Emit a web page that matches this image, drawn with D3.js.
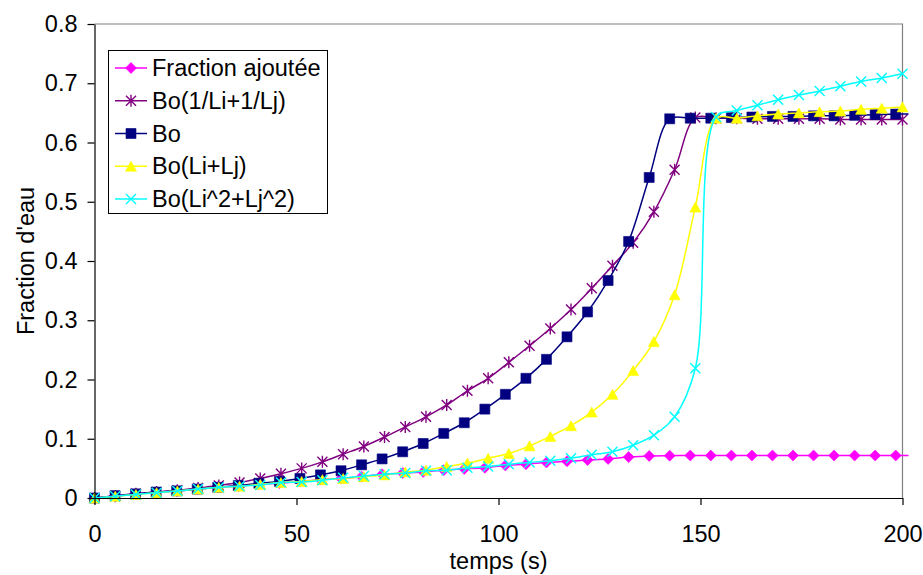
<!DOCTYPE html>
<html><head><meta charset="utf-8">
<script src="https://cdn.jsdelivr.net/npm/d3@7"></script>
<style>
body{margin:0;background:#fff}
text{font-family:"Liberation Sans",Arial,sans-serif}
</style></head>
<body><svg id="c" width="923" height="575"></svg>
<script>
// time grids (s)
const timesA = [0,5.09,10.17,15.26,20.34,25.43,30.51,35.60,40.68,45.77,50.85,55.94,61.02,66.11,71.19,76.28,81.36,86.45,91.53,96.62,101.70,106.79,111.87,116.96,122.04,127.13,132.21,137.30,142.38,147.47,152.55,157.64,162.72,167.81,172.89,177.98,183.06,188.15,193.23,198.32,203.40];
const timesB = [0,5.13,10.26,15.38,20.51,25.64,30.77,35.90,41.03,46.15,51.28,56.41,61.54,66.67,71.79,76.92,82.05,87.18,92.31,97.44,102.56,107.69,112.82,117.95,123.08,128.21,133.33,138.46,143.59,148.72,153.85,158.97,164.10,169.23,174.36,179.49,184.62,189.74,194.87,200];

// series values
const fractionAjoutee = [0,0.004,0.007,0.010,0.012,0.015,0.018,0.020,0.023,0.025,0.028,0.031,0.033,0.036,0.040,0.042,0.044,0.047,0.049,0.051,0.055,0.057,0.060,0.062,0.064,0.066,0.069,0.071,0.0715,0.0717,0.0717,0.0717,0.0717,0.0717,0.0717,0.0717,0.0717,0.0717,0.0717,0.0717,0.0717];
const boInv = [0,0.003,0.007,0.010,0.013,0.017,0.021,0.026,0.033,0.041,0.050,0.061,0.074,0.087,0.103,0.120,0.137,0.157,0.181,0.202,0.229,0.257,0.286,0.318,0.354,0.392,0.431,0.483,0.554,0.642,0.641,0.641,0.640,0.640,0.640,0.640,0.639,0.639,0.639,0.639];
const bo = [0,0.004,0.007,0.010,0.012,0.015,0.018,0.021,0.025,0.028,0.033,0.039,0.046,0.056,0.066,0.078,0.092,0.109,0.127,0.150,0.175,0.202,0.234,0.272,0.314,0.367,0.433,0.541,0.640,0.641,0.641,0.642,0.643,0.644,0.644,0.645,0.645,0.646,0.647,0.648,0.648];
const boSum = [0,0.003,0.006,0.009,0.012,0.015,0.018,0.020,0.023,0.026,0.028,0.031,0.033,0.036,0.039,0.044,0.047,0.053,0.059,0.067,0.075,0.088,0.104,0.122,0.145,0.175,0.215,0.264,0.343,0.491,0.641,0.641,0.645,0.648,0.650,0.652,0.653,0.656,0.658,0.660];
const boSq = [0,0.003,0.006,0.009,0.012,0.015,0.018,0.020,0.022,0.026,0.027,0.030,0.034,0.037,0.040,0.042,0.046,0.047,0.051,0.053,0.057,0.060,0.063,0.067,0.073,0.078,0.089,0.106,0.137,0.219,0.643,0.654,0.663,0.672,0.680,0.687,0.695,0.703,0.709,0.716];

const seriesNames = ["Fraction ajoutée","Bo(1/Li+1/Lj)","Bo","Bo(Li+Lj)","Bo(Li^2+Lj^2)"];
const seriesColors = ["#FF00FF","#800080","#000080","#FFFF00","#00FFFF"];
const seriesMarkers = ["diamond","star","square","triangle","x"];
const seriesTimes = [timesA,timesB,timesA,timesB,timesB];
const seriesValues = [fractionAjoutee,boInv,bo,boSum,boSq];

const xTicks = [0,50,100,150,200];
const yTicks = [0,0.1,0.2,0.3,0.4,0.5,0.6,0.7,0.8];
const xTitle = "temps (s)";
const yTitle = "Fraction d'eau";

const svg = d3.select("#c");
const L = 94.5, R = 902.5, T = 24, B = 498;
const FS = 23.5;
const x = d3.scaleLinear().domain([0,200]).range([L,R]);
const y = d3.scaleLinear().domain([0,0.8]).range([B,T]);

// plot border (top/right gray)
svg.append("path").attr("d",`M${L},${T}H${R}V${B}`).attr("fill","none").attr("stroke","#808080").attr("stroke-width",1.2);

function markerPath(t){
  switch(t){
    case "diamond": return "M0,-5.5L5.5,0L0,5.5L-5.5,0Z";
    case "square": return "M-5,-5H5V5H-5Z";
    case "triangle": return "M0,-5L5.5,5H-5.5Z";
    case "x": return "M-5,-5L5,5M-5,5L5,-5";
    case "star": return "M-5,-5L5,5M-5,5L5,-5M0,-6V6";
  }
}
function styleMarker(sel, t, c){
  if(t==="x"||t==="star"){
    sel.attr("fill","none").attr("stroke",c).attr("stroke-width",1.4);
  } else {
    sel.attr("fill",c).attr("stroke",c).attr("stroke-width",0.6);
  }
}

svg.append("defs").append("clipPath").attr("id","clip")
  .append("rect").attr("x",L).attr("y",T-10).attr("width",R-L+6).attr("height",B-T+14);

const line = d3.line().x(d=>x(d[0])).y(d=>y(d[1])).curve(d3.curveCatmullRom.alpha(0.5));

seriesNames.forEach((name,k)=>{
  const pts = seriesTimes[k].map((t,i)=>[t, seriesValues[k][i]]);
  const g = svg.append("g");
  g.append("path").attr("d",line(pts)).attr("fill","none")
    .attr("stroke",seriesColors[k]).attr("stroke-width",1.5).attr("clip-path","url(#clip)");
  g.selectAll("path.m").data(pts.filter(p=>p[0]<=200)).join("path").attr("class","m")
    .attr("transform",d=>`translate(${x(d[0])},${y(d[1])})`)
    .attr("d",markerPath(seriesMarkers[k]))
    .call(s=>styleMarker(s,seriesMarkers[k],seriesColors[k]));
});

// axes
const yAxis = d3.axisLeft(y).tickValues(yTicks).tickSize(7).tickSizeOuter(0).tickPadding(10)
  .tickFormat(d=> d===0 ? "0" : d3.format(".1f")(d));
const gy = svg.append("g").attr("transform",`translate(${L},0)`).call(yAxis);
const xAxis = d3.axisBottom(x).tickValues(xTicks).tickSize(7).tickSizeOuter(0).tickPadding(20)
  .tickFormat(d3.format("d"));
const gx = svg.append("g").attr("transform",`translate(0,${B})`).call(xAxis);
[gx,gy].forEach(g=>{
  g.selectAll("path,line").attr("stroke","#000").attr("stroke-width",1.2);
  g.selectAll("text").attr("font-size",FS).attr("fill","#000").attr("font-family","Liberation Sans, Arial, sans-serif");
});

svg.append("text").attr("x",(L+R)/2).attr("y",569).attr("text-anchor","middle")
  .attr("font-size",FS).text(xTitle);
svg.append("text").attr("transform",`translate(34,${(T+B)/2}) rotate(-90)`).attr("text-anchor","middle")
  .attr("font-size",FS).text(yTitle);

// legend
const lg = svg.append("g");
lg.append("rect").attr("x",108.5).attr("y",50.5).attr("width",219).attr("height",163)
  .attr("fill","#fff").attr("stroke","#000").attr("stroke-width",1);
seriesNames.forEach((name,k)=>{
  const yy = 68 + k*32.75;
  lg.append("line").attr("x1",115).attr("x2",147).attr("y1",yy).attr("y2",yy)
    .attr("stroke",seriesColors[k]).attr("stroke-width",1.5);
  lg.append("path").attr("transform",`translate(131,${yy})`).attr("d",markerPath(seriesMarkers[k]))
    .call(s=>styleMarker(s,seriesMarkers[k],seriesColors[k]));
  lg.append("text").attr("x",152).attr("y",yy).attr("dy","0.35em").attr("font-size",FS).text(name);
});
</script></body></html>
